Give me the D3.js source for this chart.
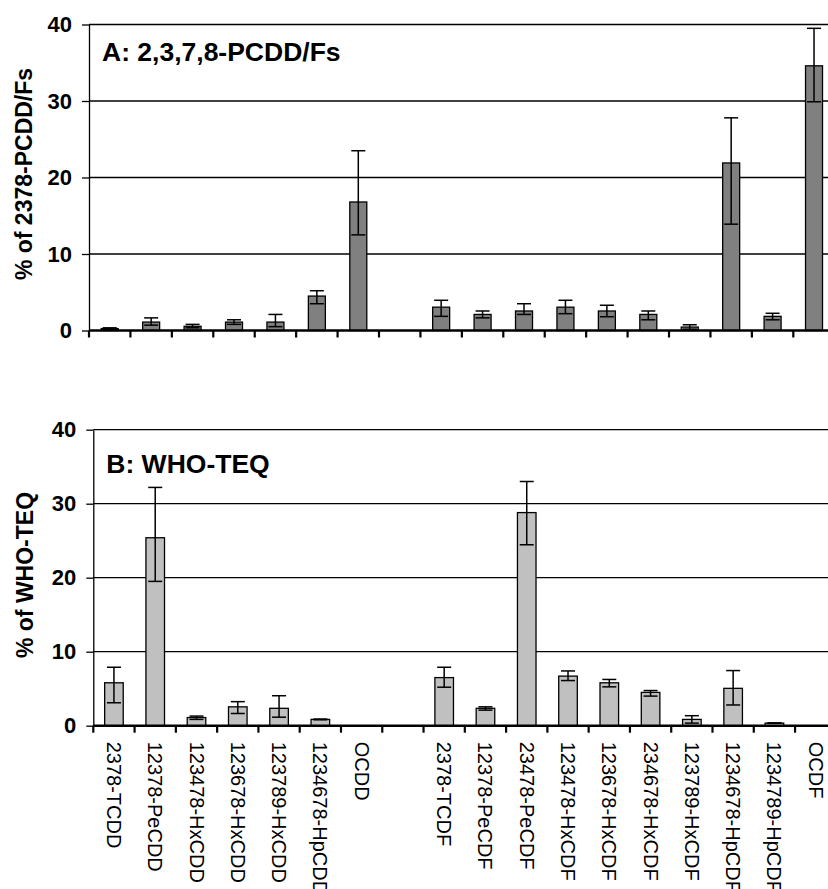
<!DOCTYPE html>
<html>
<head>
<meta charset="utf-8">
<script src="https://cdn.jsdelivr.net/npm/d3@7"></script>
<style>
  body { margin: 0; background: #fff; }
  svg { display: block; font-family: Arial, "Liberation Sans", sans-serif; }
</style>
</head>
<body>
<svg id="chart" width="828" height="889"></svg>
<script>
// Congeners; the empty slot is the gap between PCDDs and PCDFs
const categories = [
    "2378-TCDD", "12378-PeCDD", "123478-HxCDD", "123678-HxCDD", "123789-HxCDD", "1234678-HpCDD", "OCDD",
    "",
    "2378-TCDF", "12378-PeCDF", "23478-PeCDF", "123478-HxCDF", "123678-HxCDF", "234678-HxCDF",
    "123789-HxCDF", "1234678-HpCDF", "1234789-HpCDF", "OCDF"
];

// Panel A: % of 2378-PCDD/Fs
const valuesA = [0.25, 1.1, 0.55, 1.1, 1.1, 4.5, 16.8, null, 3.05, 2.1, 2.55, 3.05, 2.55, 2.1, 0.45, 21.9, 1.85, 34.6];
const errPlusA = [0.1, 0.55, 0.25, 0.3, 1.0, 0.7, 6.7, null, 0.9, 0.45, 0.95, 0.9, 0.75, 0.45, 0.3, 5.9, 0.4, 4.9];
const errMinusA = [0.1, 0.4, 0.2, 0.3, 0.6, 1.0, 4.3, null, 1.2, 0.45, 0.45, 0.85, 0.75, 0.7, 0.3, 8.0, 0.45, 4.7];

// Panel B: % of WHO-TEQ
const valuesB = [5.8, 25.4, 1.1, 2.55, 2.35, 0.85, 0, null, 6.5, 2.35, 28.8, 6.7, 5.8, 4.5, 0.85, 5.05, 0.35, 0];
const errPlusB = [2.1, 6.8, 0.2, 0.7, 1.7, 0.05, 0, null, 1.4, 0.2, 4.2, 0.7, 0.45, 0.25, 0.5, 2.4, 0.02, 0];
const errMinusB = [2.7, 5.9, 0.25, 0.9, 1.2, 0.05, 0, null, 1.3, 0.25, 4.35, 0.6, 0.55, 0.5, 0.5, 2.25, 0.02, 0];

const yTicks = [0, 10, 20, 30, 40];

const svg = d3.select("#chart");

function drawPanel(cfg) {
    const g = svg.append("g");
    const keys = categories.map((c, i) => i);

    const x = d3.scaleBand()
        .domain(keys)
        .range([cfg.left, cfg.left + cfg.band * keys.length])
        .padding(0);

    const y = d3.scaleLinear()
        .domain([0, 40])
        .range([cfg.bottom, cfg.top]);

    const right = 828;

    // gridlines (incl. top border at 40)
    g.selectAll(".grid")
        .data(yTicks.filter(d => d > 0))
        .join("line")
        .attr("x1", cfg.left).attr("x2", right)
        .attr("y1", d => y(d)).attr("y2", d => y(d))
        .attr("stroke", "#000")
        .attr("stroke-width", 1.3);

    // y axis
    const yAxis = d3.axisLeft(y)
        .tickValues(yTicks)
        .tickSize(7)
        .tickSizeOuter(0)
        .tickPadding(10);

    const yG = g.append("g")
        .attr("transform", `translate(${cfg.left},0)`)
        .call(yAxis);
    yG.select(".domain").attr("stroke", "#000").attr("stroke-width", 1.3);
    yG.selectAll(".tick line").attr("stroke", "#000").attr("stroke-width", 1.3);
    yG.selectAll(".tick text")
        .attr("fill", "#000")
        .style("font-size", "22px")
        .style("font-weight", "bold");

    // bars
    const data = keys.filter(i => cfg.values[i] != null);
    const barW = x.bandwidth() * cfg.barFrac;

    g.selectAll(".bar")
        .data(data.filter(i => cfg.values[i] > 0))
        .join("rect")
        .attr("class", "bar")
        .attr("x", i => x(i) + (x.bandwidth() - barW) / 2)
        .attr("width", barW)
        .attr("y", i => y(cfg.values[i]))
        .attr("height", i => y(0) - y(cfg.values[i]))
        .attr("fill", cfg.fill)
        .attr("stroke", "#000")
        .attr("stroke-width", 1.3);

    // error bars
    const capW = 14;
    const errData = data.filter(i => cfg.values[i] > 0 && (cfg.plus[i] > 0 || cfg.minus[i] > 0));
    const err = g.selectAll(".err")
        .data(errData)
        .join("g")
        .attr("class", "err")
        .attr("stroke", "#000")
        .attr("stroke-width", 1.5);
    const cx = i => x(i) + x.bandwidth() / 2;
    err.append("line")
        .attr("x1", cx).attr("x2", cx)
        .attr("y1", i => y(cfg.values[i] + cfg.plus[i]))
        .attr("y2", i => y(cfg.values[i] - cfg.minus[i]));
    err.append("line")
        .attr("x1", i => cx(i) - capW / 2).attr("x2", i => cx(i) + capW / 2)
        .attr("y1", i => y(cfg.values[i] + cfg.plus[i]))
        .attr("y2", i => y(cfg.values[i] + cfg.plus[i]));
    err.append("line")
        .attr("x1", i => cx(i) - capW / 2).attr("x2", i => cx(i) + capW / 2)
        .attr("y1", i => y(cfg.values[i] - cfg.minus[i]))
        .attr("y2", i => y(cfg.values[i] - cfg.minus[i]));

    // zero axis and category boundary ticks
    g.append("line")
        .attr("x1", cfg.left).attr("x2", right)
        .attr("y1", y(0)).attr("y2", y(0))
        .attr("stroke", "#000")
        .attr("stroke-width", 2.5);

    g.selectAll(".xtick")
        .data(keys)
        .join("line")
        .attr("x1", i => x(i)).attr("x2", i => x(i))
        .attr("y1", y(0)).attr("y2", y(0) + 7)
        .attr("stroke", "#000")
        .attr("stroke-width", 2.2);

    // category labels
    if (cfg.labels) {
        g.selectAll(".xlab")
            .data(keys.filter(i => categories[i] !== ""))
            .join("text")
            .attr("transform", i => `translate(${cx(i)},${y(0) + 16}) rotate(90)`)
            .attr("dy", "0.35em")
            .style("font-size", "20px")
            .text(i => categories[i]);
    }

    // panel label
    g.append("text")
        .attr("x", cfg.left + 13)
        .attr("y", cfg.labelY)
        .style("font-size", cfg.labelSize + "px")
        .style("font-weight", "bold")
        .text(cfg.label);

    // y axis title
    g.append("text")
        .attr("transform", `translate(${cfg.titleX},${cfg.titleY}) rotate(-90)`)
        .attr("text-anchor", "middle")
        .attr("dy", "0.35em")
        .style("font-size", "23px")
        .style("font-weight", "bold")
        .text(cfg.title);
}

drawPanel({
    left: 89, top: 24.5, bottom: 330.5, band: 41.43, barFrac: 0.41,
    values: valuesA, plus: errPlusA, minus: errMinusA, fill: "#808080",
    label: "A: 2,3,7,8-PCDD/Fs", labelY: 61, labelSize: 26.5,
    title: "% of 2378-PCDD/Fs", titleX: 24, titleY: 174,
    labels: false
});

drawPanel({
    left: 93.3, top: 429.7, bottom: 725.7, band: 41.28, barFrac: 0.45,
    values: valuesB, plus: errPlusB, minus: errMinusB, fill: "#c0c0c0",
    label: "B: WHO-TEQ", labelY: 473, labelSize: 26.5,
    title: "% of WHO-TEQ", titleX: 25, titleY: 575,
    labels: true
});
</script>
</body>
</html>
